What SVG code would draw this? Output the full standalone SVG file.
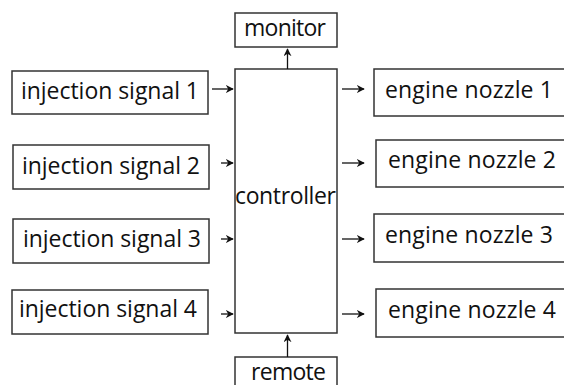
<svg xmlns="http://www.w3.org/2000/svg" width="564" height="385" viewBox="0 0 564 385">
<style>
.box{fill:#fff;stroke:#333;stroke-width:1.5}
.lbl{font-family:"Open Sans","Liberation Sans",sans-serif;font-size:23px;fill:#111}
.con{stroke:#111;stroke-width:1.3;fill:none;marker-end:url(#ah)}
</style>
<defs>
<marker id="ah" viewBox="0 0 10 10" refX="9" refY="5" markerWidth="8" markerHeight="8" markerUnits="userSpaceOnUse" orient="auto">
<path d="M0,0 L10,5 L0,10 L3,5 z" fill="#111"/>
</marker>
</defs>
<rect width="564" height="385" fill="#fff"/>
<g id="monitor"><rect class="box" x="235" y="13" width="102" height="34"/><text class="lbl" x="244" y="36" textLength="82">monitor</text></g>
<g id="controller"><rect class="box" x="235" y="69" width="102" height="264"/><text class="lbl" x="235" y="204" textLength="101">controller</text></g>
<g id="remote"><rect class="box" x="235" y="357" width="102" height="40"/><text class="lbl" x="251" y="380" textLength="75">remote</text></g>
<g id="inj1"><rect class="box" x="12" y="71" width="196" height="43"/><text class="lbl" x="21" y="99" textLength="178">injection signal 1</text></g>
<g id="inj2"><rect class="box" x="13" y="145" width="196" height="44"/><text class="lbl" x="22" y="174" textLength="178">injection signal 2</text></g>
<g id="inj3"><rect class="box" x="13" y="219" width="196" height="44"/><text class="lbl" x="23" y="247" textLength="178">injection signal 3</text></g>
<g id="inj4"><rect class="box" x="12" y="290" width="196" height="44"/><text class="lbl" x="19" y="317" textLength="178">injection signal 4</text></g>
<g id="noz1"><rect class="box" x="374" y="69" width="200" height="47"/><text class="lbl" x="385" y="98" textLength="168">engine nozzle 1</text></g>
<g id="noz2"><rect class="box" x="376" y="140" width="200" height="47"/><text class="lbl" x="388" y="168" textLength="168">engine nozzle 2</text></g>
<g id="noz3"><rect class="box" x="374" y="214" width="200" height="48"/><text class="lbl" x="385" y="243" textLength="168">engine nozzle 3</text></g>
<g id="noz4"><rect class="box" x="376" y="289" width="200" height="48"/><text class="lbl" x="388" y="318" textLength="168">engine nozzle 4</text></g>
<g id="connectors">
<line class="con" x1="212" y1="89" x2="233" y2="89"/>
<line class="con" x1="221" y1="163" x2="233" y2="163"/>
<line class="con" x1="221" y1="239" x2="233" y2="239"/>
<line class="con" x1="221" y1="314" x2="233" y2="314"/>
<line class="con" x1="342" y1="89" x2="364" y2="89"/>
<line class="con" x1="342" y1="163" x2="364" y2="163"/>
<line class="con" x1="342" y1="239" x2="364" y2="239"/>
<line class="con" x1="342" y1="314" x2="364" y2="314"/>
<line class="con" x1="287.5" y1="69" x2="287.5" y2="49"/>
<line class="con" x1="287.5" y1="357" x2="287.5" y2="335"/>
</g>
</svg>
